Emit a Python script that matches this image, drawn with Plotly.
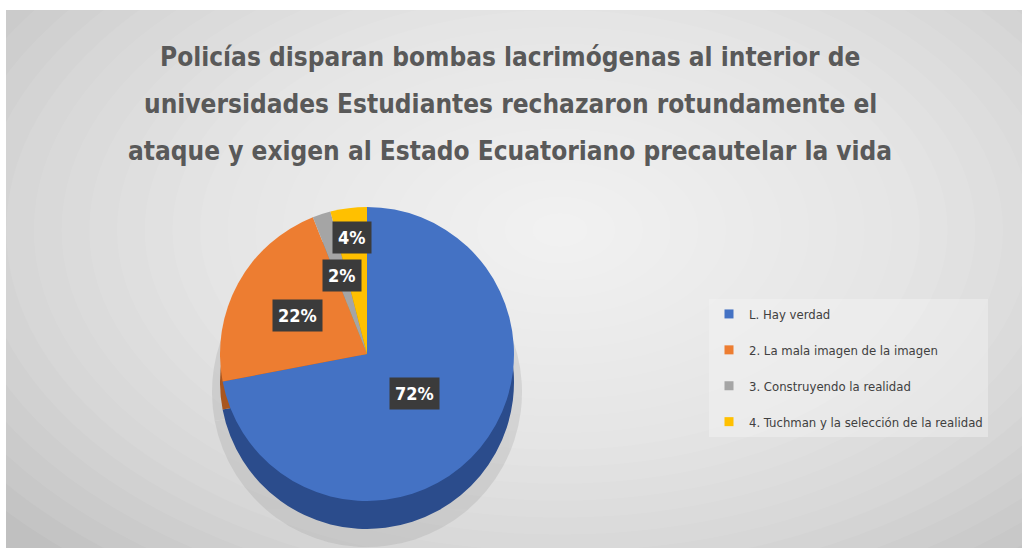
import math
import plotly.graph_objects as go

W, H = 1022, 549

# ---------------- data ----------------
title_lines = [
    "Policías disparan bombas lacrimógenas al interior de",
    "universidades Estudiantes rechazaron rotundamente el",
    "ataque y exigen al Estado Ecuatoriano precautelar la vida",
]
categories = [
    "L. Hay verdad",
    "2. La mala imagen de la imagen",
    "3. Construyendo la realidad",
    "4. Tuchman y la selección de la realidad",
]
values = [72, 22, 2, 4]

# ---------------- style ----------------
colors = ["#4472C4", "#ED7D31", "#A5A5A5", "#FFC000"]
side_colors = ["#2B4C8C", "#A9561F", "#777777", "#B98B00"]
shadow_colors = ["#9A9A9A"] * 4
label_radius = [0.42, 0.54, 0.56, 0.80]
FONT = "DejaVu Sans Condensed, Liberation Sans Narrow, sans-serif"

cx, cy, R, depth = 367, 354, 147, 28


def fx(p):
    return p / W


def fy(p):
    return 1 - p / H


total = sum(values)
label_texts = [f"{round(v / total * 100)}%" for v in values]

fig = go.Figure()

# soft shadow under the pie
fig.add_trace(go.Pie(
    values=values, labels=categories, sort=False, direction="clockwise", rotation=0,
    marker=dict(colors=shadow_colors, line=dict(width=0)), opacity=0.25,
    textinfo="none", hoverinfo="skip", showlegend=False,
    domain=dict(x=[fx(cx - R - 8), fx(cx + R + 8)],
                y=[fy(cy + depth + 10 + R + 8), fy(cy + depth + 10 - R - 8)]),
))
# 3D side of the pie (shifted copy in darker tones)
fig.add_trace(go.Pie(
    values=values, labels=categories, sort=False, direction="clockwise", rotation=0,
    marker=dict(colors=side_colors, line=dict(width=0)),
    textinfo="none", hoverinfo="skip", showlegend=False,
    domain=dict(x=[fx(cx - R), fx(cx + R)], y=[fy(cy + depth + R), fy(cy + depth - R)]),
))
# top face
fig.add_trace(go.Pie(
    values=values, labels=categories, sort=False, direction="clockwise", rotation=0,
    marker=dict(colors=colors, line=dict(width=0)),
    textinfo="none", hoverinfo="label+percent", showlegend=False,
    domain=dict(x=[fx(cx - R), fx(cx + R)], y=[fy(cy + R), fy(cy - R)]),
))

# legend entries
for i, (cat, col) in enumerate(zip(categories, colors)):
    fig.add_trace(go.Scatter(
        x=[None], y=[None], mode="markers", name=cat, legendgroup=f"g{i}",
        marker=dict(symbol="square", size=9, color=col),
    ))

# data labels (boxes) computed from the slice angles
annotations = []
cum = 0
for v, t, rf in zip(values, label_texts, label_radius):
    mid = (cum + v / 2) / total * 2 * math.pi
    cum += v
    px = cx + rf * R * math.sin(mid)
    py = cy - rf * R * math.cos(mid)
    annotations.append(dict(
        x=fx(px), y=fy(py), xref="paper", yref="paper", text=t, showarrow=False,
        font=dict(family=FONT, size=18, color="white", weight="bold"),
        bgcolor="#3B3B3B", borderpad=5, xanchor="center", yanchor="middle",
    ))

# title lines
for i, line in enumerate(title_lines):
    annotations.append(dict(
        x=fx(510), y=fy(57 + 47 * i), xref="paper", yref="paper", text=line,
        showarrow=False, xanchor="center", yanchor="middle",
        font=dict(family=FONT, size=26, color="#595959", weight="bold"),
    ))

# background: gray panel with a radial light gradient
shapes = [dict(type="rect", xref="paper", yref="paper", x0=fx(6), x1=1, y0=fy(548), y1=fy(10),
               fillcolor="#C0C0C0", line=dict(width=0), layer="below")]
gx, gy = 560, 230
N = 26
for k in range(N):
    s = 1 - k / N
    rx, ry = 720 * s, 440 * s
    shapes.append(dict(type="circle", xref="paper", yref="paper",
                       x0=fx(gx - rx), x1=fx(gx + rx), y0=fy(gy + ry), y1=fy(gy - ry),
                       fillcolor="white", opacity=0.07, line=dict(width=0), layer="below"))
# white outer strips
shapes.append(dict(type="rect", xref="paper", yref="paper", x0=0, x1=1, y0=fy(10), y1=1,
                   fillcolor="white", line=dict(width=0), layer="below"))
shapes.append(dict(type="rect", xref="paper", yref="paper", x0=0, x1=fx(6), y0=0, y1=1,
                   fillcolor="white", line=dict(width=0), layer="below"))
shapes.append(dict(type="rect", xref="paper", yref="paper", x0=0, x1=1, y0=0, y1=fy(548),
                   fillcolor="white", line=dict(width=0), layer="below"))

fig.update_layout(
    width=W, height=H,
    margin=dict(l=0, r=0, t=0, b=0),
    paper_bgcolor="white", plot_bgcolor="rgba(0,0,0,0)",
    xaxis=dict(visible=False), yaxis=dict(visible=False),
    shapes=shapes, annotations=annotations,
    showlegend=True,
    legend=dict(
        x=fx(709), y=fy(299), xanchor="left", yanchor="top",
        font=dict(family=FONT, size=13, color="#404040"),
        bgcolor="rgba(245,245,245,0.45)", tracegroupgap=16,
        itemclick=False, itemdoubleclick=False,
    ),
)

fig.write_html("out.html", config={"displayModeBar": False},
               post_script="document.body.style.margin='0px';")
